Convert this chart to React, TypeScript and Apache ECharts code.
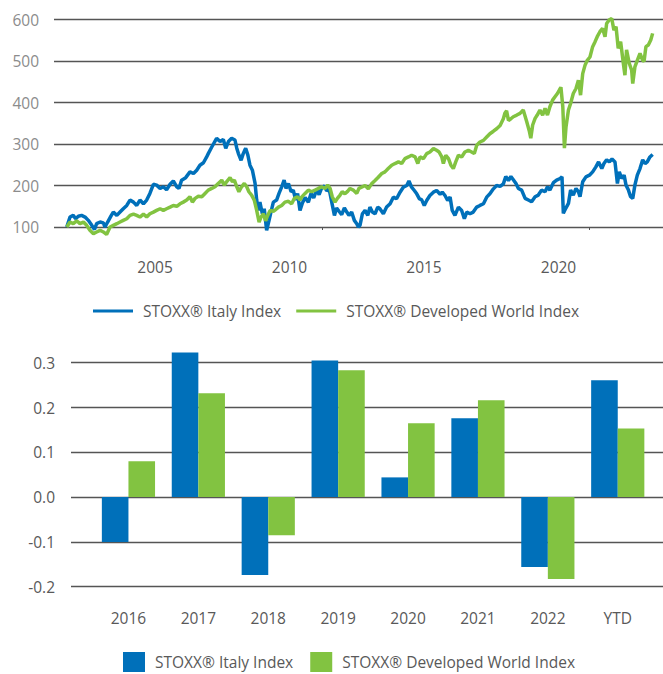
import React, { useEffect, useRef } from "react";
import * as echarts from "echarts";

const ITALY = "STOXX® Italy Index";
const WORLD = "STOXX® Developed World Index";

const yearTicks = [2005, 2010, 2015, 2020];
const lineTickMarks = [2011.21, 2021.13];
const lineYTicks = [100, 200, 300, 400, 500, 600];

const italyLine: [number, number][] = [
  [2001.72,100],[2001.84,124],[2001.96,128],[2002.05,120],[2002.15,126],[2002.27,128],[2002.40,124],[2002.52,116],[2002.65,104],[2002.75,94],[2002.83,108],[2002.96,112],[2003.08,110],[2003.14,100],[2003.24,112],[2003.36,126],[2003.45,136],[2003.58,128],[2003.70,136],[2003.82,144],[2003.95,152],[2004.07,165],[2004.20,160],[2004.32,152],[2004.44,165],[2004.57,156],[2004.69,165],[2004.81,181],[2004.94,203],[2005.06,201],[2005.19,193],[2005.31,197],[2005.43,190],[2005.56,203],[2005.68,211],[2005.81,197],[2005.89,193],[2005.99,213],[2006.14,219],[2006.30,233],[2006.43,229],[2006.55,237],[2006.67,249],[2006.80,255],[2006.92,269],[2006.98,277],[2007.11,293],[2007.29,314],[2007.42,306],[2007.54,311],[2007.63,290],[2007.73,306],[2007.85,314],[2007.97,310],[2008.04,290],[2008.10,277],[2008.20,261],[2008.28,277],[2008.37,290],[2008.45,274],[2008.53,249],[2008.62,237],[2008.72,205],[2008.78,165],[2008.84,140],[2008.90,160],[2008.99,132],[2009.06,144],[2009.15,92],[2009.24,116],[2009.31,136],[2009.40,160],[2009.52,165],[2009.61,181],[2009.71,197],[2009.80,213],[2009.87,193],[2009.96,205],[2010.06,185],[2010.14,189],[2010.23,165],[2010.30,181],[2010.39,140],[2010.48,158],[2010.58,171],[2010.70,160],[2010.80,181],[2010.90,170],[2011.01,190],[2011.10,178],[2011.20,195],[2011.30,199],[2011.38,187],[2011.47,193],[2011.57,160],[2011.67,128],[2011.75,146],[2011.84,138],[2011.94,130],[2012.04,146],[2012.13,136],[2012.21,128],[2012.31,136],[2012.41,116],[2012.50,108],[2012.56,100],[2012.62,104],[2012.71,132],[2012.81,140],[2012.91,128],[2012.99,148],[2013.08,136],[2013.18,132],[2013.28,148],[2013.36,144],[2013.49,132],[2013.61,148],[2013.74,156],[2013.86,172],[2013.98,168],[2014.11,184],[2014.23,196],[2014.36,200],[2014.44,211],[2014.54,196],[2014.64,188],[2014.73,180],[2014.83,168],[2014.91,166],[2015.01,152],[2015.10,164],[2015.22,176],[2015.35,184],[2015.47,188],[2015.60,179],[2015.68,184],[2015.78,176],[2015.88,164],[2015.97,172],[2016.05,140],[2016.15,128],[2016.28,148],[2016.40,140],[2016.50,120],[2016.59,136],[2016.71,132],[2016.83,136],[2016.96,148],[2017.08,152],[2017.21,156],[2017.33,172],[2017.45,180],[2017.58,192],[2017.70,200],[2017.83,198],[2017.95,204],[2018.04,222],[2018.14,212],[2018.23,222],[2018.32,214],[2018.42,205],[2018.51,193],[2018.63,189],[2018.76,169],[2018.88,165],[2019.00,161],[2019.13,173],[2019.25,177],[2019.37,189],[2019.50,185],[2019.59,197],[2019.68,189],[2019.81,207],[2019.93,213],[2020.06,217],[2020.13,221],[2020.18,133],[2020.27,145],[2020.37,157],[2020.45,189],[2020.55,177],[2020.65,193],[2020.74,185],[2020.80,173],[2020.90,209],[2021.02,221],[2021.15,225],[2021.27,233],[2021.39,245],[2021.49,257],[2021.61,241],[2021.69,253],[2021.79,262],[2021.89,257],[2021.99,264],[2022.10,257],[2022.19,205],[2022.26,233],[2022.35,217],[2022.44,225],[2022.51,201],[2022.60,189],[2022.68,173],[2022.76,169],[2022.84,201],[2022.93,225],[2023.03,241],[2023.13,262],[2023.22,253],[2023.30,257],[2023.40,269],[2023.50,275]
];

const worldLine: [number, number][] = [
  [2001.72,100],[2001.84,112],[2001.96,108],[2002.09,115],[2002.21,108],[2002.34,112],[2002.46,104],[2002.58,92],[2002.71,84],[2002.83,88],[2002.96,92],[2003.08,88],[2003.20,82],[2003.33,100],[2003.45,104],[2003.58,108],[2003.70,112],[2003.82,116],[2003.95,120],[2004.07,128],[2004.20,131],[2004.32,128],[2004.44,124],[2004.57,131],[2004.69,124],[2004.81,132],[2004.94,136],[2005.06,140],[2005.19,144],[2005.31,140],[2005.43,144],[2005.56,148],[2005.68,152],[2005.81,150],[2005.93,156],[2006.05,160],[2006.18,165],[2006.30,173],[2006.39,160],[2006.49,169],[2006.61,174],[2006.74,173],[2006.86,181],[2006.98,189],[2007.11,193],[2007.23,197],[2007.35,205],[2007.48,213],[2007.58,201],[2007.66,209],[2007.79,219],[2007.88,209],[2007.95,213],[2008.04,197],[2008.12,185],[2008.22,197],[2008.32,205],[2008.41,197],[2008.49,185],[2008.59,177],[2008.69,165],[2008.78,140],[2008.87,112],[2008.94,124],[2009.03,132],[2009.11,115],[2009.19,128],[2009.28,140],[2009.40,138],[2009.49,142],[2009.59,148],[2009.71,152],[2009.83,160],[2009.96,162],[2010.08,156],[2010.18,169],[2010.30,173],[2010.39,165],[2010.45,172],[2010.58,181],[2010.70,189],[2010.82,185],[2010.95,189],[2011.07,193],[2011.20,197],[2011.32,193],[2011.42,201],[2011.51,193],[2011.59,173],[2011.69,160],[2011.78,169],[2011.88,177],[2011.96,185],[2012.06,180],[2012.16,186],[2012.25,193],[2012.37,189],[2012.50,181],[2012.58,193],[2012.68,196],[2012.81,200],[2012.93,192],[2013.05,204],[2013.18,212],[2013.30,220],[2013.43,229],[2013.55,233],[2013.67,241],[2013.80,249],[2013.92,253],[2014.05,257],[2014.17,253],[2014.29,265],[2014.42,269],[2014.54,273],[2014.67,269],[2014.77,253],[2014.85,269],[2014.98,265],[2015.10,277],[2015.22,281],[2015.35,289],[2015.47,285],[2015.56,281],[2015.66,269],[2015.72,253],[2015.81,273],[2015.91,265],[2016.00,249],[2016.09,241],[2016.18,257],[2016.28,273],[2016.40,269],[2016.52,281],[2016.65,285],[2016.77,281],[2016.87,277],[2016.96,297],[2017.08,305],[2017.21,309],[2017.33,317],[2017.45,325],[2017.58,331],[2017.70,337],[2017.83,345],[2017.95,361],[2018.01,375],[2018.07,380],[2018.14,357],[2018.23,361],[2018.32,366],[2018.45,370],[2018.57,374],[2018.69,382],[2018.82,354],[2018.92,330],[2018.97,314],[2019.04,346],[2019.13,362],[2019.21,370],[2019.31,382],[2019.41,370],[2019.50,386],[2019.59,370],[2019.68,390],[2019.78,406],[2019.87,414],[2019.96,422],[2020.03,430],[2020.09,437],[2020.16,390],[2020.22,290],[2020.28,342],[2020.37,382],[2020.45,398],[2020.55,422],[2020.65,434],[2020.74,454],[2020.82,418],[2020.90,470],[2020.99,491],[2021.07,502],[2021.17,510],[2021.27,535],[2021.36,547],[2021.44,559],[2021.54,571],[2021.64,579],[2021.73,559],[2021.79,591],[2021.89,600],[2021.98,603],[2022.06,575],[2022.14,583],[2022.22,531],[2022.31,547],[2022.41,495],[2022.47,466],[2022.53,527],[2022.63,495],[2022.72,478],[2022.76,446],[2022.84,486],[2022.93,502],[2023.03,519],[2023.13,502],[2023.18,499],[2023.25,535],[2023.34,539],[2023.43,551],[2023.50,567]
];

const barCategories = ["2016", "2017", "2018", "2019", "2020", "2021", "2022", "YTD"];
const italyReturns = [-0.100, 0.323, -0.174, 0.305, 0.044, 0.176, -0.156, 0.261];
const worldReturns = [0.080, 0.232, -0.085, 0.283, 0.165, 0.216, -0.183, 0.153];
const barYTicks = [-0.2, -0.1, 0.0, 0.1, 0.2, 0.3];

const BLUE = "#0070BA";
const GREEN = "#82C341";
const FONT = "'Open Sans', sans-serif";
const TEXT = "#595959";
const GRID = "#555555";
const FS = 15.5;

export default function App() {
  const ref = useRef<HTMLDivElement>(null);
  useEffect(() => {
    if (!ref.current) return;
    const chart = echarts.init(ref.current, undefined, { renderer: "svg" });
    const option: any = {
      animation: false,
      backgroundColor: "#ffffff",
      textStyle: { fontFamily: FONT },
      grid: [
        { left: 54, right: 0, top: 19.7, height: 207.3 },
        { left: 71, right: 0, top: 362.7, height: 224 },
        { left: 93.5, right: 10.3, top: 362.7, height: 224 },
      ],
      xAxis: [
        {
          type: "value",
          gridIndex: 0,
          min: 2001.245,
          max: 2023.885,
          splitLine: { show: false },
          axisLine: { show: false },
          axisTick: {
            show: true,
            customValues: lineTickMarks,
            length: 3,
            lineStyle: { color: GRID },
          },
          axisLabel: {
            customValues: yearTicks,
            color: TEXT,
            fontSize: FS,
            fontFamily: FONT,
            margin: 32,
            formatter: (v: number) => String(Math.round(v)),
          },
        },
        {
          type: "value",
          gridIndex: 1,
          min: 0,
          max: 1,
          show: false,
        },
        {
          type: "category",
          gridIndex: 2,
          data: barCategories,
          axisLine: { show: false },
          axisTick: { show: false },
          axisLabel: {
            color: TEXT,
            fontSize: FS,
            fontFamily: FONT,
            margin: 23,
          },
        },
      ],
      yAxis: [
        {
          type: "value",
          gridIndex: 0,
          min: lineYTicks[0],
          max: lineYTicks[lineYTicks.length - 1],
          interval: 100,
          axisLine: { show: false },
          axisTick: { show: false },
          splitLine: { lineStyle: { color: GRID, width: 1.3 } },
          axisLabel: { color: "#8c8c8c", fontSize: FS, fontFamily: FONT, margin: 15 },
        },
        {
          type: "value",
          gridIndex: 1,
          min: barYTicks[0],
          max: barYTicks[barYTicks.length - 1],
          interval: 0.1,
          axisLine: { show: false },
          axisTick: { show: false },
          splitLine: { lineStyle: { color: GRID, width: 1.3 } },
          axisLabel: {
            color: TEXT,
            fontSize: FS,
            fontFamily: FONT,
            margin: 16,
            formatter: (v: number) => v.toFixed(1),
          },
        },
        {
          type: "value",
          gridIndex: 2,
          min: barYTicks[0],
          max: barYTicks[barYTicks.length - 1],
          interval: 0.1,
          show: false,
          splitLine: { show: false },
        },
      ],
      legend: [
        {
          left: 93,
          top: 303,
          padding: 0,
          itemWidth: 40,
          itemHeight: 3,
          itemGap: 15,
          selectedMode: false,
          textStyle: { color: TEXT, fontSize: FS, fontFamily: FONT, padding: [0, 0, 0, 5] },
          data: [
            { name: ITALY, icon: "rect", itemStyle: { color: BLUE, borderWidth: 0 } },
            { name: WORLD, icon: "rect", itemStyle: { color: GREEN, borderWidth: 0 } },
          ],
        },
        {
          left: 123,
          top: 652,
          padding: 0,
          itemWidth: 22,
          itemHeight: 20,
          itemGap: 17,
          selectedMode: false,
          textStyle: { color: TEXT, fontSize: FS, fontFamily: FONT, padding: [0, 0, 0, 5] },
          data: [
            { name: ITALY, icon: "rect", itemStyle: { color: BLUE, borderWidth: 0 } },
            { name: WORLD, icon: "rect", itemStyle: { color: GREEN, borderWidth: 0 } },
          ],
        },
      ],
      series: [
        {
          name: ITALY,
          type: "line",
          xAxisIndex: 0,
          yAxisIndex: 0,
          data: italyLine,
          showSymbol: false,
          symbol: "none",
          clip: false,
          lineStyle: { color: BLUE, width: 3.5 },
          itemStyle: { color: BLUE },
        },
        {
          name: WORLD,
          type: "line",
          xAxisIndex: 0,
          yAxisIndex: 0,
          data: worldLine,
          showSymbol: false,
          symbol: "none",
          clip: false,
          lineStyle: { color: GREEN, width: 3.5 },
          itemStyle: { color: GREEN },
        },
        {
          name: ITALY,
          type: "bar",
          xAxisIndex: 2,
          yAxisIndex: 2,
          data: italyReturns,
          barWidth: 26.6,
          barGap: "0%",
          clip: false,
          itemStyle: { color: BLUE },
        },
        {
          name: WORLD,
          type: "bar",
          xAxisIndex: 2,
          yAxisIndex: 2,
          data: worldReturns,
          barWidth: 26.6,
          barGap: "0%",
          clip: false,
          itemStyle: { color: GREEN },
        },
      ],
    };
    chart.setOption(option);
    return () => chart.dispose();
  }, []);
  return (
    <div
      ref={ref}
      style={{ position: "absolute", left: 0, top: 0, width: 663, height: 674 }}
    />
  );
}
